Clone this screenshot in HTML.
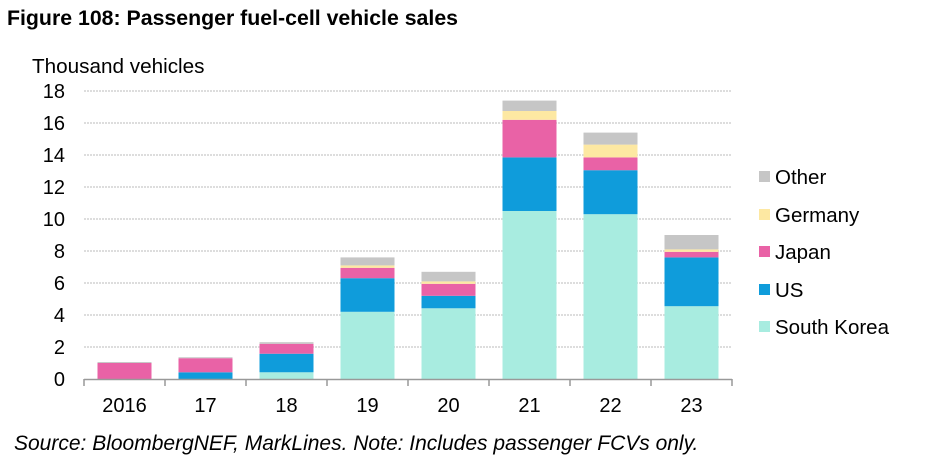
<!DOCTYPE html>
<html><head><meta charset="utf-8"><style>
body{margin:0;background:#fff;font-family:"Liberation Sans",Arial,sans-serif;}
svg text{font-family:"Liberation Sans",Arial,sans-serif;}
</style></head><body>
<svg id="chart" width="934" height="470">
<text x="7" y="25" font-size="21.3" font-weight="bold" fill="#000">Figure 108: Passenger fuel-cell vehicle sales</text>
<text x="32" y="73" font-size="20.7" fill="#000">Thousand vehicles</text>
<text x="14" y="450" font-size="21" font-style="italic" fill="#000">Source: BloombergNEF, MarkLines. Note: Includes passenger FCVs only.</text>
<g id="grid"></g><g id="bars"></g><g id="axes"></g><g id="legend"></g>
</svg>
<script>
const categories=["2016","17","18","19","20","21","22","23"];
const southKorea=[0,0,0.42,4.2,4.42,10.5,10.3,4.55];
const us=[0,0.42,1.16,2.1,0.78,3.35,2.75,3.05];
const japan=[1.0,0.88,0.62,0.65,0.75,2.35,0.8,0.35];
const germany=[0,0,0,0.15,0.15,0.55,0.8,0.15];
const other=[0.06,0.06,0.1,0.5,0.6,0.65,0.75,0.9];
const yTicks=[0,2,4,6,8,10,12,14,16,18];
const seriesNames=["South Korea","US","Japan","Germany","Other"];
const seriesColors=["#a8ece0","#0f9cdb","#e962a6","#fde8a2","#c6c6c6"];
const seriesData=[southKorea,us,japan,germany,other];

const NS="http://www.w3.org/2000/svg";
const x0=84,x1=732,y0=379,yTop=91,yMax=18;
const band=(x1-x0)/categories.length,barW=54;
const ys=v=>y0-(v/yMax)*(y0-yTop);
const xc=i=>x0+band*(i+0.5);
function mk(t,a,p){const e=document.createElementNS(NS,t);for(const k in a)e.setAttribute(k,a[k]);p.appendChild(e);return e;}
const grid=document.getElementById('grid'),bars=document.getElementById('bars'),axes=document.getElementById('axes'),legend=document.getElementById('legend');
yTicks.forEach(t=>{
  if(t>0){const l=mk('line',{x1:x0,x2:x1,y1:ys(t),y2:ys(t),stroke:'#bbb','stroke-dasharray':'2,1','stroke-width':1},grid);
  
  }
  const tx=mk('text',{x:65,y:ys(t)+7,'font-size':20,'text-anchor':'end',fill:'#000'},axes);tx.textContent=t;
  
  
});
const ax=mk('line',{x1:x0,x2:x1,y1:y0+0.5,y2:y0+0.5,stroke:'#999','stroke-width':1.5},axes);


for(let i=0;i<=categories.length;i++){const tk=mk('line',{x1:x0+band*i,x2:x0+band*i,y1:y0,y2:y0+7,stroke:'#999','stroke-width':1.5},axes);
  
  }
categories.forEach((c,i)=>{
  const tx=mk('text',{x:xc(i),y:412,'font-size':20,'text-anchor':'middle',fill:'#000'},axes);tx.textContent=c;
  
  
  let acc=0;
  seriesData.forEach((s,k)=>{
    const v=s[i];if(v<=0)return;
    const r=mk('rect',{x:xc(i)-barW/2,y:ys(acc+v),width:barW,height:ys(acc)-ys(acc+v),fill:seriesColors[k]},bars);
    
    
    acc+=v;
  });
});
const legY=[327,290,252,215,177];
seriesNames.forEach((n,k)=>{
  const g=mk('g',{},legend);
  
  
  mk('rect',{x:759,y:legY[k]-6,width:11,height:11,fill:seriesColors[k]},g);
  const t=mk('text',{x:775,y:legY[k]+7,'font-size':20.5,fill:'#000'},g);t.textContent=n;
});
</script>
</body></html>
